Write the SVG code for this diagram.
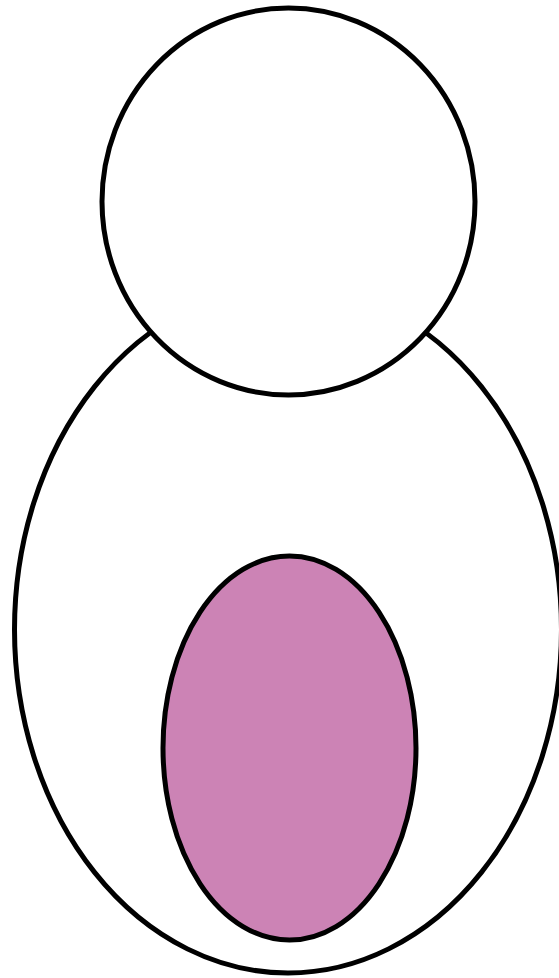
<svg xmlns="http://www.w3.org/2000/svg" width="559" height="978" viewBox="0 0 559 978">
<style>
.s{stroke:#000;stroke-width:5;}
</style>
<rect width="559" height="978" fill="#fff"/>
<g id="body"><ellipse class="s" cx="288" cy="629.5" rx="273.5" ry="343.5" fill="#fff"/></g>
<g id="head"><ellipse class="s" cx="288.5" cy="201.5" rx="186.5" ry="193.5" fill="#fff"/></g>
<g id="belly"><ellipse class="s" cx="289.5" cy="748" rx="126.5" ry="192" fill="#CC83B5"/></g>
<g id="connectors"></g>
</svg>
